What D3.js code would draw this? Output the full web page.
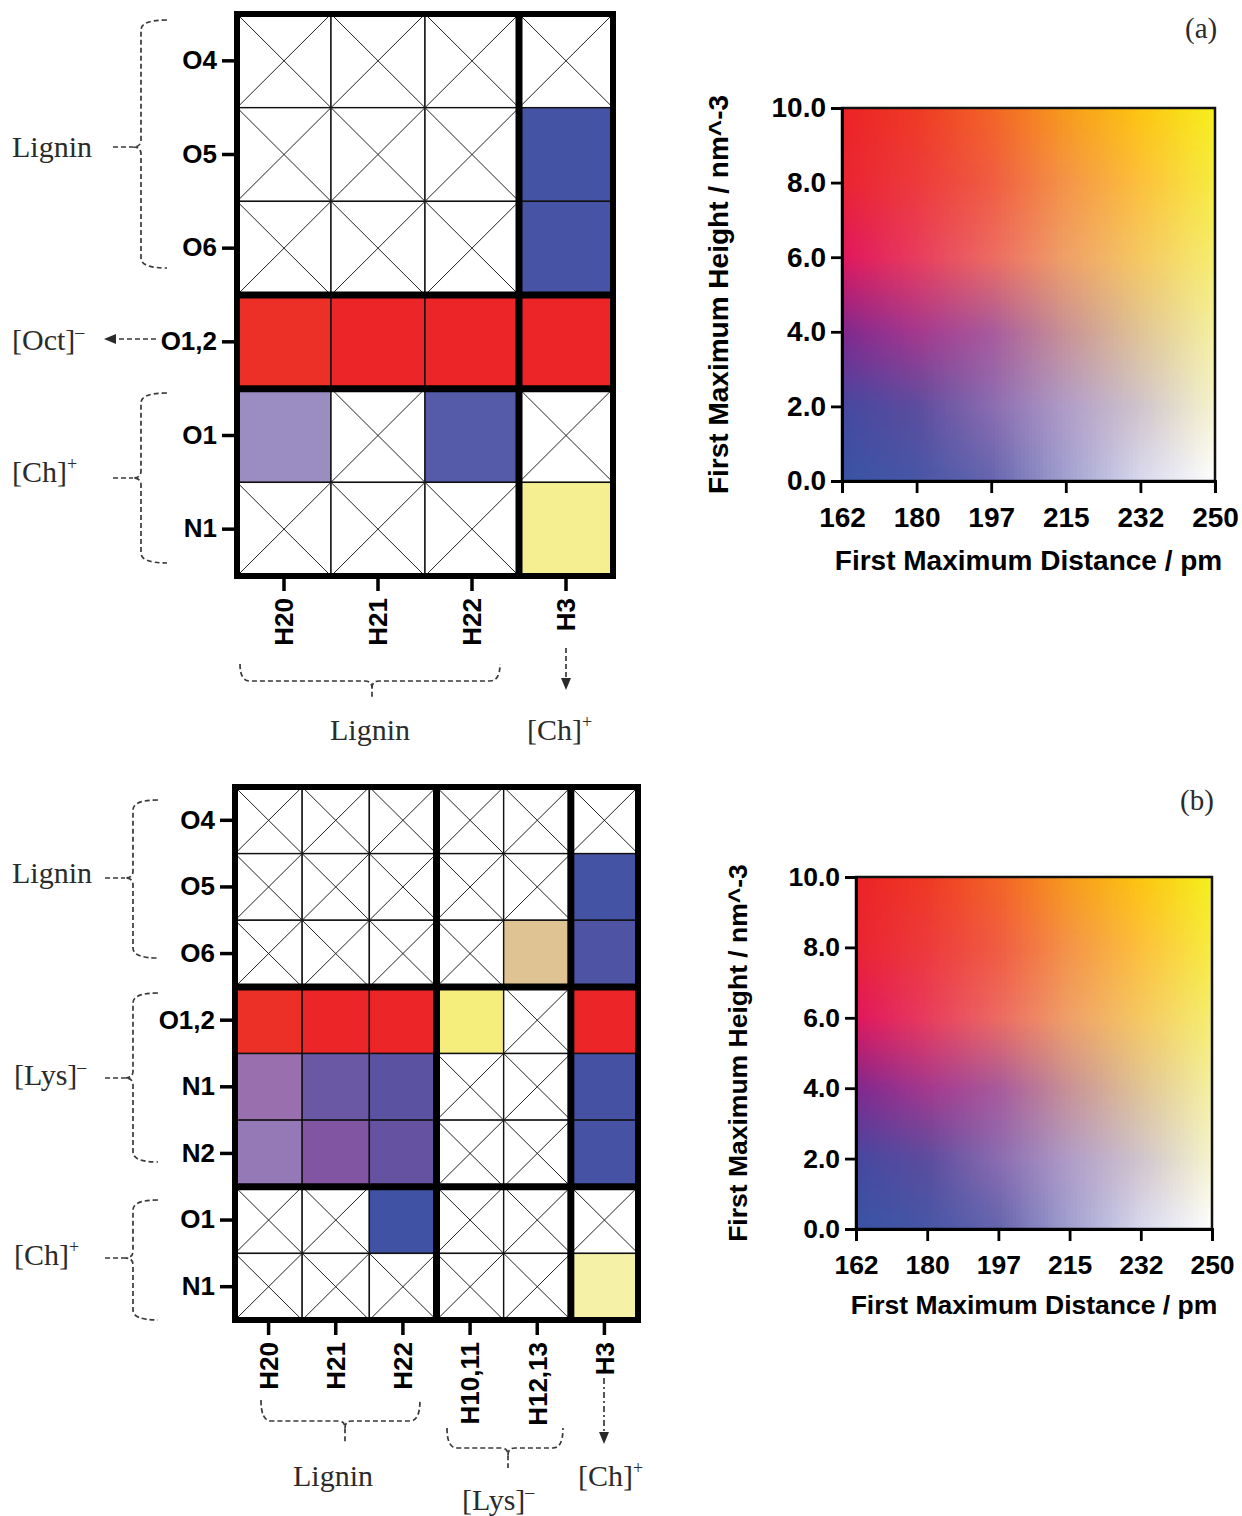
<!DOCTYPE html>
<html>
<head>
<meta charset="utf-8">
<script src="https://cdn.jsdelivr.net/npm/d3@7"></script>
<style>
  body { margin: 0; background: #fff; }
  svg { display: block; }
  .serif { font-family: "Liberation Serif", "Times New Roman", serif; fill: #2b2b2b; }
</style>
</head>
<body>
<script>
/*** DATA ***/

/* panel (a) */
let colsA = ["H20", "H21", "H22", "H3"];
let rowsA = ["O4", "O5", "O6", "O1,2", "O1", "N1"];
/* first maximum distance (pm) - null = no peak (crossed cell) */
let distA = [
  [null, null, null, null],
  [null, null, null, 172],
  [null, null, null, 174],
  [172, 164, 164, 164],
  [209, null, 186, null],
  [null, null, null, 250]
];
/* first maximum height (nm^-3) */
let heightA = [
  [null, null, null, null],
  [null, null, null, 0.4],
  [null, null, null, 0.5],
  [9.8, 9.6, 9.6, 9.6],
  [1.3, null, 0.3, null],
  [null, null, null, 4.6]
];

/* panel (b) */
let colsB = ["H20", "H21", "H22", "H10,11", "H12,13", "H3"];
let rowsB = ["O4", "O5", "O6", "O1,2", "N1", "N2", "O1", "N1"];
let distB = [
  [null, null, null, null, null, null],
  [null, null, null, null, null, 172],
  [null, null, null, null, 232, 180],
  [172, 164, 164, 249, null, 164],
  [200, 186, 182, null, null, 172],
  [202, 188, 183, null, null, 173],
  [null, null, 168, null, null, null],
  [null, null, null, null, null, 250]
];
let heightB = [
  [null, null, null, null, null, null],
  [null, null, null, null, null, 0.4],
  [null, null, null, null, 4.1, 0.6],
  [9.8, 9.6, 9.6, 5.4, null, 9.6],
  [2.6, 1.8, 1.4, null, null, 0.5],
  [2.1, 2.6, 2.0, null, null, 0.5],
  [null, null, 0.3, null, null, null],
  [null, null, null, null, null, 3.7]
];

/* colour legend axes */
let distDomain = [162, 250];
let heightDomain = [0, 10];
let distTicks = [162, 179.6, 197.2, 214.8, 232.4, 250];
let heightTicks = [0, 2, 4, 6, 8, 10];

/* 2D colour map control colours, top row = height 10, left col = distance 162 */
let legendGrid = [
  ["#ec2226", "#ee3a24", "#f26326", "#f79a1c", "#fcc511", "#f6ee1e"],
  ["#ea2332", "#ed3a3c", "#f05c42", "#f49448", "#fcc03c", "#f6ec40"],
  ["#e0165e", "#e83c5e", "#ec6a62", "#efa068", "#f5c862", "#f5ee6e"],
  ["#80288e", "#a4388e", "#a85a9c", "#c89296", "#e0c496", "#f5f0a0"],
  ["#4548a0", "#5c4c9e", "#8a6cb0", "#b09cc8", "#d0c4cc", "#f6f4cc"],
  ["#3953a4", "#4656a6", "#6464ae", "#a0a0d0", "#d8d8ee", "#ffffff"]
];

/*** COLOUR ***/
let fx = d3.scaleLinear().domain(distDomain).range([0, 5]).clamp(true);
let fy = d3.scaleLinear().domain(heightDomain).range([5, 0]).clamp(true);

function bivar(d, h) {
  let x = fx(d), y = fy(h);
  let i = Math.min(4, Math.floor(x)), j = Math.min(4, Math.floor(y));
  let tx = x - i, ty = y - j;
  let top = d3.interpolateRgb(legendGrid[j][i], legendGrid[j][i + 1])(tx);
  let bot = d3.interpolateRgb(legendGrid[j + 1][i], legendGrid[j + 1][i + 1])(tx);
  return d3.interpolateRgb(top, bot)(ty);
}

/*** SVG ***/
let svg = d3.select("body").append("svg")
  .attr("width", 1242)
  .attr("height", 1516);

svg.append("rect").attr("width", 1242).attr("height", 1516).attr("fill", "#fff");

let panels = [
  {
    cols: colsA, rows: rowsA, dist: distA, height: heightA,
    colBreaks: [3], rowBreaks: [3, 4],
    grid: { x0: 237, x1: 613, y0: 14, y1: 576 },
    legend: { x0: 842, x1: 1215, y0: 108, y1: 481 },
    fs: 28, titleX: 728, titleY: 570, tag: "(a)", tagX: 1185, tagY: 38
  },
  {
    cols: colsB, rows: rowsB, dist: distB, height: heightB,
    colBreaks: [3, 5], rowBreaks: [3, 6],
    grid: { x0: 235, x1: 638, y0: 787, y1: 1320 },
    legend: { x0: 856, x1: 1212, y0: 877, y1: 1229 },
    fs: 26.5, titleX: 747, titleY: 1314, tag: "(b)", tagX: 1180, tagY: 810
  }
];

panels.forEach((p) => {
  let g = svg.append("g");
  let x = d3.scaleBand().domain(d3.range(p.cols.length)).range([p.grid.x0, p.grid.x1]);
  let y = d3.scaleBand().domain(d3.range(p.rows.length)).range([p.grid.y0, p.grid.y1]);

  let cells = [];
  p.rows.forEach((r, ri) => {
    p.cols.forEach((c, ci) => {
      cells.push({ r: ri, c: ci, d: p.dist[ri][ci], h: p.height[ri][ci] });
    });
  });

  /* cellules */
  g.selectAll(".cell")
    .data(cells)
    .enter().append("rect")
    .attr("class", "cell")
    .attr("x", (d) => x(d.c))
    .attr("y", (d) => y(d.r))
    .attr("width", x.bandwidth())
    .attr("height", y.bandwidth())
    .attr("fill", (d) => d.d == null ? "#fff" : bivar(d.d, d.h))
    .attr("stroke", "#111")
    .attr("stroke-width", 1.4);

  /* croix pour les cellules vides */
  let empty = cells.filter((d) => d.d == null);
  g.selectAll(".cross")
    .data(empty)
    .enter().append("path")
    .attr("class", "cross")
    .attr("d", (d) => {
      let x0 = x(d.c), y0 = y(d.r), w = x.bandwidth(), h = y.bandwidth();
      return "M" + x0 + "," + y0 + "L" + (x0 + w) + "," + (y0 + h) +
        "M" + (x0 + w) + "," + y0 + "L" + x0 + "," + (y0 + h);
    })
    .attr("stroke", "#222")
    .attr("stroke-width", 1)
    .attr("fill", "none");

  /* separations epaisses */
  p.colBreaks.forEach((b) => {
    g.append("line")
      .attr("x1", x(b)).attr("x2", x(b))
      .attr("y1", p.grid.y0).attr("y2", p.grid.y1)
      .attr("stroke", "#000").attr("stroke-width", 7);
  });
  p.rowBreaks.forEach((b) => {
    g.append("line")
      .attr("x1", p.grid.x0).attr("x2", p.grid.x1)
      .attr("y1", y(b)).attr("y2", y(b))
      .attr("stroke", "#000").attr("stroke-width", 7);
  });
  g.append("rect")
    .attr("x", p.grid.x0).attr("y", p.grid.y0)
    .attr("width", p.grid.x1 - p.grid.x0)
    .attr("height", p.grid.y1 - p.grid.y0)
    .attr("fill", "none").attr("stroke", "#000").attr("stroke-width", 6);

  /* axes de la grille */
  let yAxis = d3.axisLeft(y).tickSize(12).tickPadding(5).tickFormat((i) => p.rows[i]);
  let ga = g.append("g")
    .attr("transform", "translate(" + (p.grid.x0 - 3) + ",0)")
    .call(yAxis);
  let xAxis = d3.axisBottom(x).tickSize(12).tickPadding(5).tickFormat((i) => p.cols[i]);
  let gb = g.append("g")
    .attr("transform", "translate(0," + (p.grid.y1 + 3) + ")")
    .call(xAxis);
  gb.selectAll("text")
    .attr("transform", "rotate(-90)")
    .attr("x", -19)
    .attr("y", 0)
    .attr("dy", "0.36em")
    .style("text-anchor", "end");
  [ga, gb].forEach((a) => {
    a.attr("font-family", "'Liberation Sans', Arial, sans-serif")
      .attr("font-size", 26)
      .attr("font-weight", "bold");
    a.select(".domain").remove();
    a.selectAll(".tick line").attr("stroke", "#000").attr("stroke-width", 3.5);
    a.selectAll(".tick text").attr("fill", "#000");
  });

  /* legende 2D */
  let L = p.legend;
  let xL = d3.scaleLinear().domain(distDomain).range([L.x0, L.x1]);
  let yL = d3.scaleLinear().domain(heightDomain).range([L.y1, L.y0]);
  let N = 100;
  let pix = [];
  for (let i = 0; i < N; i++) {
    for (let j = 0; j < N; j++) {
      pix.push({ i: i, j: j });
    }
  }
  let dd = (distDomain[1] - distDomain[0]) / N;
  let dh = (heightDomain[1] - heightDomain[0]) / N;
  g.append("g").selectAll("rect")
    .data(pix)
    .enter().append("rect")
    .attr("x", (d) => xL(distDomain[0] + d.i * dd))
    .attr("y", (d) => yL(heightDomain[0] + (d.j + 1) * dh))
    .attr("width", xL(distDomain[0] + dd) - xL(distDomain[0]) + 0.6)
    .attr("height", yL(0) - yL(dh) + 0.6)
    .attr("fill", (d) => bivar(distDomain[0] + (d.i + 0.5) * dd, heightDomain[0] + (d.j + 0.5) * dh))
    .attr("shape-rendering", "crispEdges");

  g.append("rect")
    .attr("x", L.x0).attr("y", L.y0)
    .attr("width", L.x1 - L.x0).attr("height", L.y1 - L.y0)
    .attr("fill", "none").attr("stroke", "#111").attr("stroke-width", 2.5);

  let axL = g.append("g")
    .attr("transform", "translate(" + L.x0 + ",0)")
    .call(d3.axisLeft(yL).tickValues(heightTicks).tickFormat(d3.format(".1f")).tickSize(11).tickPadding(5));
  let axB = g.append("g")
    .attr("transform", "translate(0," + L.y1 + ")")
    .call(d3.axisBottom(xL).tickValues(distTicks).tickFormat(d3.format(".0f")).tickSize(12).tickPadding(14));
  [axL, axB].forEach((a) => {
    a.attr("font-family", "'Liberation Sans', Arial, sans-serif")
      .attr("font-size", p.fs)
      .attr("font-weight", "bold");
    a.select(".domain").attr("stroke", "#000").attr("stroke-width", 2.8);
    a.selectAll(".tick line").attr("stroke", "#000").attr("stroke-width", 2.8);
    a.selectAll(".tick text").attr("fill", "#000");
  });

  g.append("text")
    .attr("x", (L.x0 + L.x1) / 2)
    .attr("y", p.titleY)
    .attr("text-anchor", "middle")
    .attr("font-family", "'Liberation Sans', Arial, sans-serif")
    .attr("font-weight", "bold")
    .attr("font-size", p.fs)
    .text("First Maximum Distance / pm");
  g.append("text")
    .attr("transform", "translate(" + p.titleX + "," + ((L.y0 + L.y1) / 2) + ") rotate(-90)")
    .attr("text-anchor", "middle")
    .attr("font-family", "'Liberation Sans', Arial, sans-serif")
    .attr("font-weight", "bold")
    .attr("font-size", p.fs)
    .text("First Maximum Height / nm^-3");

  g.append("text")
    .attr("class", "serif")
    .attr("x", p.tagX).attr("y", p.tagY)
    .style("font-size", "29px")
    .text(p.tag);
});

/*** ANNOTATIONS ***/
let ann = svg.append("g")
  .attr("fill", "none")
  .attr("stroke", "#3a3a3a")
  .attr("stroke-width", 1.7)
  .attr("stroke-dasharray", "5,3");

function serifLabel(x, y, main, sup, anchor) {
  let t = svg.append("text")
    .attr("class", "serif")
    .attr("x", x).attr("y", y)
    .attr("text-anchor", anchor || "start")
    .style("font-size", "30px");
  t.append("tspan").text(main);
  if (sup) t.append("tspan").attr("dy", -12).style("font-size", "18px").text(sup);
}

/* accolade verticale, pointe a gauche */
function vBrace(xv, y0, y1, ym, tipX, endX, lineFrom) {
  ann.append("path")
    .attr("d", "M" + endX + "," + y0 + " Q" + xv + "," + y0 + " " + xv + "," + (y0 + 10) +
      " L" + xv + "," + (ym - 7) + " Q" + xv + "," + ym + " " + tipX + "," + ym +
      " Q" + xv + "," + ym + " " + xv + "," + (ym + 7) +
      " L" + xv + "," + (y1 - 10) + " Q" + xv + "," + y1 + " " + endX + "," + y1);
  ann.append("path").attr("d", "M" + lineFrom + "," + ym + " L" + tipX + "," + ym);
}

/* accolade horizontale, pointe en bas */
function hBrace(yh, x0, x1, xm, tipY, endY) {
  ann.append("path")
    .attr("d", "M" + x0 + "," + endY + " Q" + x0 + "," + yh + " " + (x0 + 10) + "," + yh +
      " L" + (xm - 7) + "," + yh + " Q" + xm + "," + yh + " " + xm + "," + (yh + 7) +
      " L" + xm + "," + tipY +
      " M" + xm + "," + (yh + 7) + " Q" + xm + "," + yh + " " + (xm + 7) + "," + yh +
      " L" + (x1 - 10) + "," + yh + " Q" + x1 + "," + yh + " " + x1 + "," + endY);
}

function arrow(x1, y1, x2, y2, dash) {
  let ang = Math.atan2(y2 - y1, x2 - x1);
  let hl = 12, hw = 5;
  let bx = x2 - hl * Math.cos(ang), by = y2 - hl * Math.sin(ang);
  ann.append("path")
    .attr("stroke-dasharray", dash || "5,3")
    .attr("d", "M" + x1 + "," + y1 + " L" + bx + "," + by);
  svg.append("path")
    .attr("fill", "#2a2a2a")
    .attr("d", "M" + x2 + "," + y2 +
      " L" + (bx - hw * Math.sin(ang)) + "," + (by + hw * Math.cos(ang)) +
      " L" + (bx + hw * Math.sin(ang)) + "," + (by - hw * Math.cos(ang)) + " Z");
}

/* panel (a) */
serifLabel(12, 157, "Lignin");
vBrace(141, 20, 268, 147, 133, 167, 113);
serifLabel(12, 350, "[Oct]", "\u2013");
arrow(156, 339, 104, 339);
serifLabel(12, 482, "[Ch]", "+");
vBrace(141, 393, 563, 478, 133, 167, 113);
hBrace(681, 240, 500, 372, 698, 664);
serifLabel(370, 740, "Lignin", null, "middle");
arrow(566, 648, 566, 690);
serifLabel(527, 740, "[Ch]", "+");

/* panel (b) */
serifLabel(12, 883, "Lignin");
vBrace(133, 800, 958, 878, 125, 158, 105);
serifLabel(14, 1085, "[Lys]", "\u2013");
vBrace(133, 993, 1162, 1078, 125, 158, 105);
serifLabel(14, 1265, "[Ch]", "+");
vBrace(133, 1200, 1320, 1258, 125, 158, 105);
hBrace(1421, 261, 420, 345, 1443, 1400);
serifLabel(333, 1486, "Lignin", null, "middle");
hBrace(1448, 447, 563, 508, 1468, 1428);
serifLabel(462, 1510, "[Lys]", "\u2013");
arrow(604, 1378, 604, 1444, "6,3,2,3");
serifLabel(578, 1486, "[Ch]", "+");
</script>
</body>
</html>
